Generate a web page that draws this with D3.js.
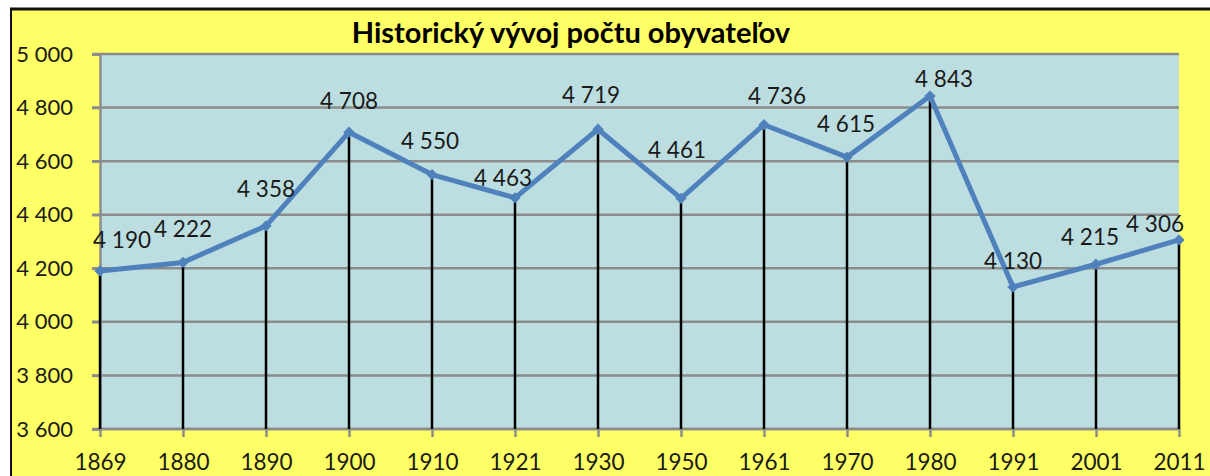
<!DOCTYPE html>
<html>
<head>
<meta charset="utf-8">
<script src="https://cdn.jsdelivr.net/npm/d3@7"></script>
<style>
  html, body { margin: 0; padding: 0; background: #fff; }
  svg { display: block; font-family: Lato, "Open Sans", sans-serif; }
</style>
</head>
<body>
<svg id="chart" width="1210" height="476"></svg>
<script>
// data
var years = ["1869", "1880", "1890", "1900", "1910", "1921", "1930", "1950", "1961", "1970", "1980", "1991", "2001", "2011"];
var population = [4190, 4222, 4358, 4708, 4550, 4463, 4719, 4461, 4736, 4615, 4843, 4130, 4215, 4306];
var yTicks = [3600, 3800, 4000, 4200, 4400, 4600, 4800, 5000];
var title = "Historický vývoj počtu obyvateľov";

// hand placed data labels (offset of label baseline-centre from the point, px)
var labelDx = [22, 0, 0, 0, -2, -12, -7, -4, 13, -1, 14, 0, -6, -24];
var labelDy = [-23, -25, -29, -23, -26, -12, -26, -40, -21, -25, -9, -18, -19, -8];

var width = 1210, height = 476;
var plotLeft = 100, plotRight = 1179, plotTop = 54, plotBottom = 429;

var svg = d3.select("#chart");

var loc = d3.formatLocale({decimal: ",", thousands: " ", grouping: [3], currency: ["", ""]});
var fmt = loc.format(",");

// chart background + border
svg.append("rect").attr("x", 11).attr("y", 9).attr("width", width).attr("height", height)
    .attr("fill", "#ffff66");
svg.append("line").attr("x1", 10).attr("x2", width).attr("y1", 9).attr("y2", 9)
    .attr("stroke", "#111").attr("stroke-width", 3);
svg.append("line").attr("x1", 11).attr("x2", 11).attr("y1", 8).attr("y2", height)
    .attr("stroke", "#111").attr("stroke-width", 2);

var x = d3.scalePoint().domain(years).range([plotLeft, plotRight]);
var y = d3.scaleLinear().domain([3600, 5000]).range([plotBottom, plotTop]);

// plot area
svg.append("rect").attr("x", plotLeft).attr("y", plotTop)
    .attr("width", plotRight - plotLeft).attr("height", plotBottom - plotTop)
    .attr("fill", "#bcdee0");

// gridlines
svg.append("g").selectAll("line").data(yTicks).join("line")
    .attr("x1", plotLeft - 8).attr("x2", plotRight)
    .attr("y1", d => y(d)).attr("y2", d => y(d))
    .attr("stroke", "#8c8c8c").attr("stroke-width", 2.5);

// y axis
var yAxis = svg.append("g").attr("transform", "translate(" + plotLeft + ",0)")
    .call(d3.axisLeft(y).tickValues(yTicks).tickFormat(fmt).tickSize(8).tickPadding(19));
yAxis.select(".domain").attr("stroke", "#8c8c8c").attr("stroke-width", 2.5);
yAxis.selectAll(".tick line").attr("stroke", "#8c8c8c").attr("stroke-width", 2.5);
yAxis.selectAll("text").attr("font-size", 22).attr("fill", "#1a1a1a")
    .attr("font-family", "Lato, sans-serif");

// x axis
var xAxis = svg.append("g").attr("transform", "translate(0," + plotBottom + ")")
    .call(d3.axisBottom(x).tickSize(8).tickPadding(17));
xAxis.select(".domain").attr("stroke", "#8c8c8c").attr("stroke-width", 2.5)
    .attr("d", "M" + plotLeft + ",0H" + plotRight);
xAxis.selectAll(".tick line").attr("stroke", "#8c8c8c").attr("stroke-width", 2.5);
xAxis.selectAll("text").attr("font-size", 22.5).attr("fill", "#1a1a1a")
    .attr("font-family", "Lato, sans-serif");

var pts = years.map((yr, i) => ({year: yr, value: population[i], dx: labelDx[i], dy: labelDy[i]}));

// drop lines
svg.append("g").selectAll("line").data(pts).join("line")
    .attr("x1", d => x(d.year)).attr("x2", d => x(d.year))
    .attr("y1", d => y(d.value)).attr("y2", plotBottom)
    .attr("stroke", "#000").attr("stroke-width", 2.5);

// series line
var line = d3.line().x(d => x(d.year)).y(d => y(d.value));
svg.append("path").datum(pts).attr("d", line)
    .attr("fill", "none").attr("stroke", "#4f81bd").attr("stroke-width", 5)
    .attr("stroke-linejoin", "round");

// markers
svg.append("g").selectAll("path").data(pts).join("path")
    .attr("d", d3.symbol().type(d3.symbolSquare).size(64))
    .attr("transform", d => "translate(" + x(d.year) + "," + y(d.value) + ") rotate(45)")
    .attr("fill", "#4f81bd");

// value labels
svg.append("g").selectAll("text").data(pts).join("text")
    .attr("x", d => x(d.year) + d.dx).attr("y", d => y(d.value) + d.dy)
    .attr("text-anchor", "middle").attr("font-size", 22.5).attr("fill", "#1a1a1a")
    .text(d => fmt(d.value));

// title
svg.append("text").attr("x", 571).attr("y", 43).attr("text-anchor", "middle")
    .attr("font-size", 29).attr("font-weight", "bold").attr("fill", "#000")
    .text(title);
</script>
</body>
</html>
